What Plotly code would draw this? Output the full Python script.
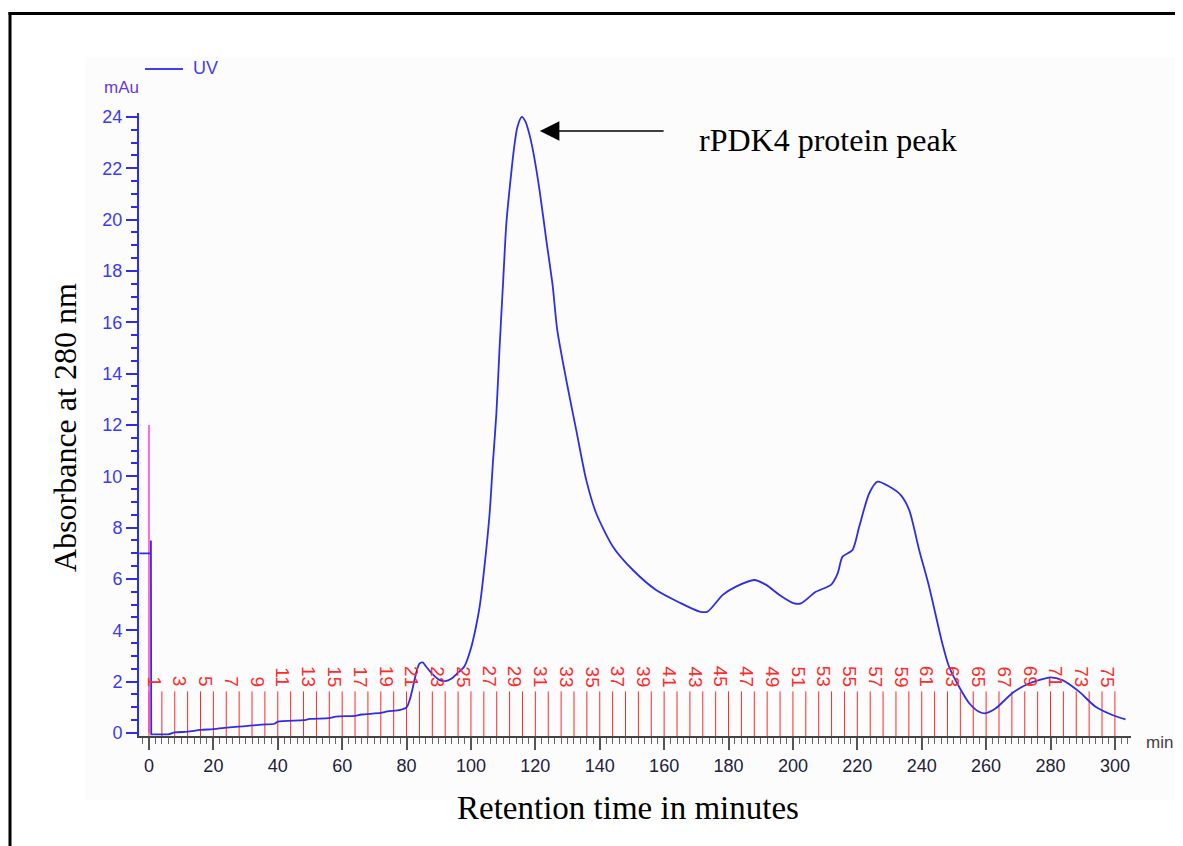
import plotly.graph_objects as go

# ---------------- data ----------------
uv_time = [-3.0, 0.6, 0.6, 0.7, 1.5, 6, 8, 12, 16, 20, 25, 30, 35, 39, 40, 48, 50, 56, 58, 64, 66,
           72, 74, 78, 80, 81, 82, 83, 84, 85, 86, 88, 90, 92, 94, 96, 98, 100, 101.5, 102.7,
           104.3, 105.8, 106.8, 107.9, 108.9, 110, 111, 112.5, 113.4, 114.4, 115.8, 117.0, 118.2,
           119.4, 121.3, 123.4, 125.4, 126.8, 129.6, 132.7, 135.8, 138.9, 144.1, 150.3, 157.5,
           164.8, 171, 173.5, 178.2, 182.3, 188, 191.7, 195.8, 200.4, 202.5, 207.1, 211.8, 213.9,
           215.4, 218.5, 220.6, 223.7, 226.3, 229.9, 233.5, 236.1, 239.2, 242.3, 246.4, 248.5,
           251.6, 254.7, 257.8, 259.9, 263, 268.1, 272.3, 276.4, 280, 283.7, 288.9, 294, 299.2,
           303.3]
uv_mau = [7.0, 7.0, 7.5, -0.05, -0.05, -0.05, 0.02, 0.05, 0.12, 0.15, 0.22, 0.27, 0.33, 0.36, 0.44,
          0.5, 0.55, 0.58, 0.64, 0.67, 0.72, 0.78, 0.84, 0.9, 1.0, 1.3, 1.8, 2.35, 2.7, 2.75, 2.6,
          2.3, 2.08, 2.02, 2.12, 2.35, 2.6, 3.3, 4.1, 4.92, 6.61, 8.56, 10.5, 12.45, 15.05, 17.6,
          19.86, 21.8, 22.8, 23.6, 24.0, 23.8, 23.3, 22.6, 21.15, 19.2, 17.4, 15.7, 13.75, 11.8,
          9.86, 8.56, 7.26, 6.35, 5.57, 5.08, 4.73, 4.73, 5.38, 5.7, 5.96, 5.77, 5.38, 5.05, 5.05,
          5.5, 5.77, 6.22, 6.87, 7.13, 8.04, 9.34, 9.79, 9.6, 9.27, 8.69, 7.13, 5.7, 3.49, 2.58,
          1.8, 1.17, 0.83, 0.77, 0.96, 1.55, 1.87, 2.06, 2.17, 2.06, 1.61, 1.02, 0.70, 0.53]

injection_time = [0.0]
injection_height = [12.0]

fraction_edges = [0, 4, 8, 12, 16, 20, 24, 28, 32, 36, 40, 44, 48, 52, 56, 60, 64, 68, 72, 76,
                  80, 84, 88, 92, 96, 100, 104, 108, 112, 116, 120, 124, 128, 132, 136, 140, 144,
                  148, 152, 156, 160, 164, 168, 172, 176, 180, 184, 188, 192, 196, 200, 204, 208,
                  212, 216, 220, 224, 228, 232, 236, 240, 244, 248, 252, 256, 260, 264, 268, 272,
                  276, 280, 284, 288, 292, 296, 300]
fraction_numbers = list(range(1, 76))
fraction_marker_height = 1.62

x_tick_values = [0, 20, 40, 60, 80, 100, 120, 140, 160, 180, 200, 220, 240, 260, 280, 300]
y_tick_values = [0, 2, 4, 6, 8, 10, 12, 14, 16, 18, 20, 22, 24]

peak_label = "rPDK4 protein peak"

# ---------------- layout geometry (reference pixels) ----------------
W, H = 1183, 846
OFF = 8  # page body margin
L, R, T, B = 139, 1131, 113, 736
XR = [-3.1, 305.0]
YR = [-0.117, 24.153]


def px(p):
    return (p - L) / (R - L)


def py(p):
    return (B - p) / (B - T)


blue = "#2e2ee8"
red = "#ff2a2a"
sans = "Liberation Sans, Arial"
serif = "Liberation Serif, Times New Roman, serif"

fig = go.Figure()

# fraction collector marks
fx, fy = [], []
for e in fraction_edges:
    fx += [e, e, None]
    fy += [YR[0], fraction_marker_height, None]
fig.add_trace(go.Scatter(x=fx, y=fy, mode="lines", line=dict(color=red, width=1),
                         hoverinfo="skip", showlegend=False))

# injection marker
fig.add_trace(go.Scatter(x=[injection_time[0], injection_time[0]], y=[0, injection_height[0]],
                         mode="lines", line=dict(color="#ff3fc8", width=1.5),
                         hoverinfo="skip", showlegend=False))

# UV trace: injection step drawn straight, rest smoothed
fig.add_trace(go.Scatter(x=uv_time[:5], y=uv_mau[:5], mode="lines",
                         line=dict(color=blue, width=1.8), showlegend=False))
fig.add_trace(go.Scatter(x=uv_time[4:], y=uv_mau[4:], mode="lines", name="UV",
                         line=dict(color=blue, width=1.8, shape="spline", smoothing=0.7),
                         showlegend=False))

annotations = []
for n in fraction_numbers:
    if n % 2 == 1:
        annotations.append(dict(x=fraction_edges[n - 1] + 1.6, y=1.71, xref="x", yref="y",
                                text=str(n), showarrow=False, textangle=90,
                                xanchor="center", yanchor="bottom",
                                font=dict(family=sans, size=19, color=red)))

# arrow + label
annotations.append(dict(x=121.4, y=23.45, xref="x", yref="y", ax=160.3, ay=23.45,
                        axref="x", ayref="y", text="", showarrow=True, arrowhead=2,
                        arrowsize=2.6, arrowwidth=1.5, arrowcolor="black"))
annotations.append(dict(x=170.3, y=23.1, xref="x", yref="y", text=peak_label, showarrow=False,
                        xanchor="left", yanchor="middle",
                        font=dict(family=serif, size=32, color="black")))

# axis titles
annotations.append(dict(x=px(65), y=py(428), xref="paper", yref="paper",
                        text="Absorbance at 280 nm", showarrow=False, textangle=-90,
                        xanchor="center", yanchor="middle",
                        font=dict(family=serif, size=32, color="black")))
annotations.append(dict(x=px(628), y=py(808), xref="paper", yref="paper",
                        text="Retention time in minutes", showarrow=False,
                        xanchor="center", yanchor="middle",
                        font=dict(family=serif, size=33, color="black")))

# units / legend text
annotations.append(dict(x=px(121), y=py(88), xref="paper", yref="paper", text="mAu",
                        showarrow=False, xanchor="center", yanchor="middle",
                        font=dict(family=sans, size=17, color="#6a3ad8")))
annotations.append(dict(x=px(191), y=py(68), xref="paper", yref="paper", text="UV",
                        showarrow=False, xanchor="left", yanchor="middle",
                        font=dict(family=sans, size=18, color="#4040ee")))
annotations.append(dict(x=px(1144), y=py(742), xref="paper", yref="paper", text="min",
                        showarrow=False, xanchor="left", yanchor="middle",
                        font=dict(family=sans, size=17, color="#4a3c3c")))

shapes = [
    # light panel background
    dict(type="rect", xref="paper", yref="paper", x0=px(85), x1=px(1200), y0=py(800), y1=py(57),
         fillcolor="#fcfcfd", line=dict(width=0), layer="below"),
    # legend line
    dict(type="line", xref="paper", yref="paper", x0=px(145), x1=px(183), y0=py(69), y1=py(69),
         line=dict(color="#4040ee", width=2)),
    # outer frame (left and top)
    dict(type="line", xref="paper", yref="paper", x0=px(10), x1=px(10), y0=py(12), y1=py(900),
         line=dict(color="black", width=3)),
    dict(type="line", xref="paper", yref="paper", x0=px(8.5), x1=px(1200), y0=py(13.5), y1=py(13.5),
         line=dict(color="black", width=3)),
]

fig.update_layout(
    width=W, height=H,
    margin=dict(l=L - OFF, r=W - (R - OFF), t=T - OFF, b=H - (B - OFF), pad=0),
    paper_bgcolor="white", plot_bgcolor="#fcfcfd",
    showlegend=False,
    annotations=annotations, shapes=shapes,
    xaxis=dict(range=XR, showgrid=False, zeroline=False, showline=True, linecolor="#444444",
               linewidth=2, ticks="outside", ticklen=12, tickwidth=1.5, tickcolor="#555555",
               tickvals=x_tick_values,
               tickfont=dict(family=sans, size=18, color="#22223a"),
               minor=dict(dtick=2, tick0=0, ticks="outside", ticklen=6, tickwidth=1,
                          tickcolor="#666666")),
    yaxis=dict(range=YR, showgrid=False, zeroline=False, showline=True, linecolor=blue,
               linewidth=2, ticks="outside", ticklen=11, tickwidth=2, tickcolor=blue,
               tickvals=y_tick_values,
               tickfont=dict(family=sans, size=18, color="#3b3bf0"),
               minor=dict(dtick=0.5, tick0=0, ticks="outside", ticklen=6, tickwidth=1.5,
                          tickcolor=blue)),
)

fig.write_html("out.html")
